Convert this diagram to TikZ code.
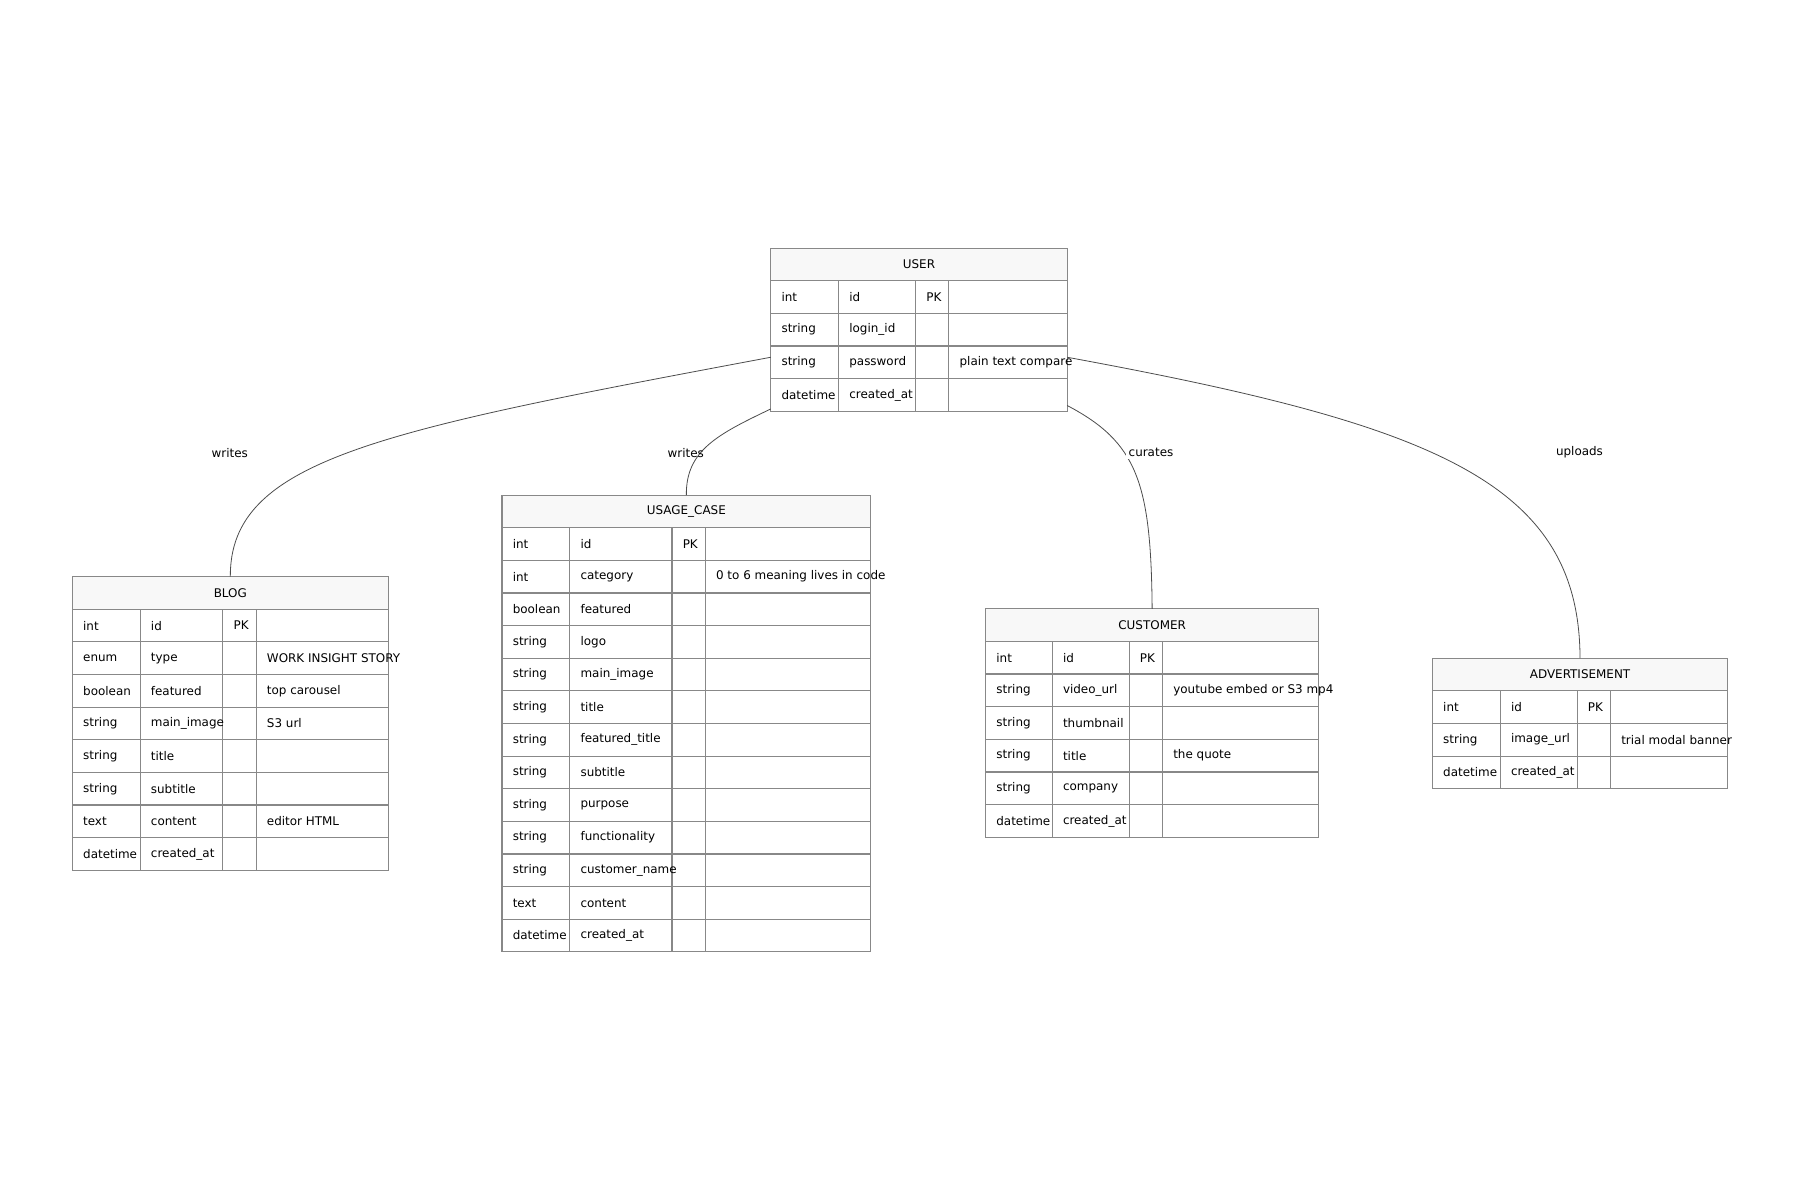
\documentclass[tikz,border=0pt]{standalone}
\usepackage{fontspec}
\setmainfont{DejaVu Sans}
\usetikzlibrary{decorations.markings}
\definecolor{ln}{HTML}{888888}
\definecolor{hd}{HTML}{F8F8F8}
\tikzset{x=0.5pt,y=0.5pt,
 cell/.style={anchor=west,inner sep=0pt,font=\fontsize{5.2}{6}\selectfont},
 ttl/.style={inner sep=0pt,font=\fontsize{5.2}{6}\selectfont},
 rel/.style={draw=black!70,line width=0.35pt,postaction={decorate},decoration={markings,
   mark=at position 7 with {\draw (0,-5)--(0,5);},
   mark=at position 11 with {\draw (0,-5)--(0,5);},
   mark=at position 1 with {\draw (-47,12) circle (4);
     \draw (-39,12) .. controls (-32,19) and (-21,17) .. (-14,12) .. controls (-21,6) and (-32,6) .. (-39,12);}}},
 lbl/.style={fill=white,inner sep=1pt,font=\fontsize{5.2}{6}\selectfont}}
% #1 name #2 x0 #3 x1 #4 x2 #5 x3 #6 x4 #7 top #8 title #9 rows
\newcommand{\entity}[9]{%
 \pgfmathsetmacro{\hb}{#7+28.4}
 \filldraw[draw=ln,fill=hd,line width=0.5pt] (#2,-#7) rectangle (#6,-\hb);
 \node[ttl] at ({(#2+#6)/2},{-(#7+14.2)}) {#8};
 \coordinate (#1top) at ({(#2+#6)/2},-#7);
 \foreach \t/\n/\k/\c [count=\i] in {#9}{
  \pgfmathsetmacro{\ya}{\hb+(\i-1)*28.4}
  \pgfmathsetmacro{\yb}{\hb+\i*28.4}
  \draw[ln,line width=0.5pt,fill=white] (#2,-\ya) rectangle (#6,-\yb);
  \draw[ln,line width=0.5pt] (#3,-\ya)--(#3,-\yb) (#4,-\ya)--(#4,-\yb) (#5,-\ya)--(#5,-\yb);
  \node[cell] at (#2+9,{-(\ya+14.2)}) {\t};
  \node[cell] at (#3+9,{-(\ya+14.2)}) {\n};
  \node[cell] at (#4+9,{-(\ya+14.2)}) {\k};
  \node[cell] at (#5+9,{-(\ya+14.2)}) {\c};
 }}
\begin{document}
\begin{tikzpicture}
\useasboundingbox (0,0) rectangle (1567,-1045);
\entity{user}{671}{730}{797}{826}{929}{216}{USER}{int/id/PK/{},string/login\_id/{}/{},string/password/{}/plain text compare,datetime/created\_at/{}/{}}
\entity{blog}{63}{122}{194}{223}{338}{502}{BLOG}{int/id/PK/{},enum/type/{}/WORK INSIGHT STORY,boolean/featured/{}/top carousel,string/main\_image/{}/S3 url,string/title/{}/{},string/subtitle/{}/{},text/content/{}/editor HTML,datetime/created\_at/{}/{}}
\entity{uc}{437}{496}{585}{614}{758}{431}{USAGE\_CASE}{int/id/PK/{},int/category/{}/0 to 6 meaning lives in code,boolean/featured/{}/{},string/logo/{}/{},string/main\_image/{}/{},string/title/{}/{},string/featured\_title/{}/{},string/subtitle/{}/{},string/purpose/{}/{},string/functionality/{}/{},string/customer\_name/{}/{},text/content/{}/{},datetime/created\_at/{}/{}}
\entity{cus}{858}{916}{983}{1012}{1148}{530}{CUSTOMER}{int/id/PK/{},string/video\_url/{}/youtube embed or S3 mp4,string/thumbnail/{}/{},string/title/{}/the quote,string/company/{}/{},datetime/created\_at/{}/{}}
\entity{ad}{1247}{1306}{1373}{1402}{1504}{573}{ADVERTISEMENT}{int/id/PK/{},string/image\_url/{}/trial modal banner,datetime/created\_at/{}/{}}
\coordinate (u1) at (671,-311);
\coordinate (u2) at (671,-356);
\coordinate (u3) at (929,-353);
\coordinate (u4) at (929,-311);
\draw[rel] (u1) .. controls (330,-375) and (200,-400) .. (blogtop);
\draw[rel] (u2) .. controls (625,-378) and (597,-392) .. (uctop);
\draw[rel] (u3) .. controls (990,-385) and (1002,-420) .. (custop);
\draw[rel] (u4) .. controls (1250,-370) and (1375,-420) .. (adtop);
\node[lbl] at (200,-394) {writes};
\node[lbl,fill=none] at (597,-394) {writes};
\node[lbl] at (1002,-394) {curates};
\node[lbl] at (1375,-394) {uploads};
\end{tikzpicture}
\end{document}
